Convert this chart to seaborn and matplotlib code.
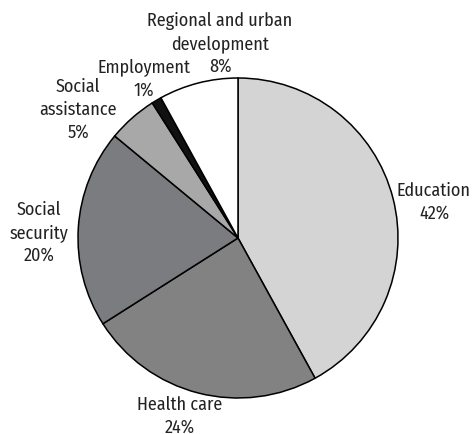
import matplotlib
matplotlib.use("Agg")
import matplotlib.pyplot as plt
from matplotlib import font_manager as fm
import seaborn as sns

sns.set_theme(style="white")

# Prefer a condensed humanist sans for the labels
installed = {f.name for f in fm.fontManager.ttflist}
candidates = ["Fira Sans Condensed", "Roboto Condensed", "PT Sans Narrow",
              "Open Sans Condensed", "Archivo Narrow", "Liberation Sans Narrow",
              "Encode Sans Condensed", "Asap Condensed", "IBM Plex Sans Condensed"]
family = [c for c in candidates if c in installed] + ["DejaVu Sans"]
plt.rcParams["font.family"] = family

# Spending shares, clockwise from 12 o'clock
categories = ["Education", "Health care", "Social\nsecurity", "Social\nassistance",
              "Employment", "Regional and urban\ndevelopment"]
shares = [42, 24, 20, 5, 1, 8]
colors = ["#d4d4d4", "#828282", "#7b7c80", "#a8a8a8", "#111111", "#ffffff"]

# Label anchor points (figure pixel space, origin top-left)
label_xy = [(434, 201), (180, 415), (39, 232), (78, 109), (144, 78), (220, 43)]
LINE_PITCH = 22.5
HALF_CAP = 6.0

W, H = 473, 435
fig = plt.figure(figsize=(W / 100, H / 100), dpi=100)
ax = fig.add_axes([0, 0, 1, 1])

ax.pie(shares, colors=colors, startangle=90, counterclock=False,
       radius=160, center=(238, H - 239),
       wedgeprops=dict(edgecolor="black", linewidth=1.1))

# Each label line is its own text object, stacked around the anchor
for name, val, (x, y) in zip(categories, shares, label_xy):
    lines = name.split("\n") + [f"{val}%"]
    top = y - LINE_PITCH * (len(lines) - 1) / 2
    for i, line in enumerate(lines):
        base = top + i * LINE_PITCH + HALF_CAP
        ax.text(x, H - base, line, ha="center", va="baseline",
                fontsize=13, color="#222222")

ax.set_xlim(0, W)
ax.set_ylim(0, H)
ax.set_aspect("equal")
ax.axis("off")

fig.savefig("out.png", dpi=100)
